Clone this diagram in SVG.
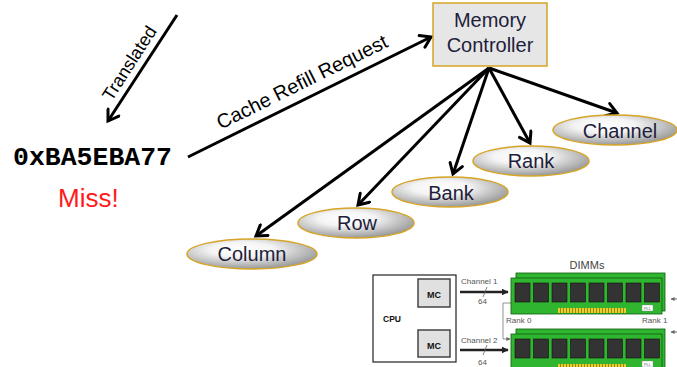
<svg xmlns="http://www.w3.org/2000/svg" width="677" height="367" viewBox="0 0 677 367">
  <defs>
    <radialGradient id="pill" cx="0.42" cy="0.35" r="0.7">
      <stop offset="0" stop-color="#ffffff"/>
      <stop offset="0.35" stop-color="#f4f4f4"/>
      <stop offset="1" stop-color="#8e8e8e"/>
    </radialGradient>
    <marker id="chev" viewBox="0 0 16 16" markerWidth="16" markerHeight="16" refX="13" refY="8" orient="auto" markerUnits="userSpaceOnUse">
      <path d="M3,1.5 L13,8 L3,14.5" fill="none" stroke="#000" stroke-width="3" stroke-linecap="round" stroke-linejoin="miter"/>
    </marker>
    <marker id="solid" viewBox="0 0 10 10" markerWidth="7" markerHeight="7" refX="9" refY="5" orient="auto" markerUnits="userSpaceOnUse">
      <path d="M0,0 L10,5 L0,10 Z" fill="#222"/>
    </marker>
    <marker id="tiny" viewBox="0 0 10 10" markerWidth="4" markerHeight="4" refX="9" refY="5" orient="auto" markerUnits="userSpaceOnUse">
      <path d="M0,0 L10,5 L0,10 Z" fill="#666"/>
    </marker>
    <pattern id="pins" width="3" height="6" patternUnits="userSpaceOnUse">
      <rect width="3" height="6" fill="#e8cf2a"/>
      <rect x="2" width="1" height="6" fill="#9a8a12"/>
    </pattern>
  </defs>
  <style>
    .lbl { font-family: "Liberation Sans", Arial, sans-serif; font-size: 20px; fill: #1e1e3c; text-anchor: middle; }
    .edge { font-family: "Liberation Sans", Arial, sans-serif; fill: #000; text-anchor: middle; }
    .pill { fill: url(#pill); stroke: #d6a526; stroke-width: 1.5; }
    .arrow { stroke: #000; stroke-width: 3; fill: none; marker-end: url(#chev); }
    .small { font-family: "Liberation Sans", Arial, sans-serif; font-size: 8px; fill: #555; }
    .board { fill: #2fb52f; stroke: #0d5f0d; stroke-width: 0.8; }
    .chip { fill: #333; stroke: #111; stroke-width: 0.6; }
  </style>

  <!-- connectors -->
  <g id="connectors">
    <line class="arrow" x1="177" y1="15" x2="108" y2="121"/>
    <line class="arrow" x1="188" y1="157" x2="431" y2="37"/>
    <line class="arrow" x1="489" y1="68" x2="617" y2="113"/>
    <line class="arrow" x1="489" y1="68" x2="530" y2="143"/>
    <line class="arrow" x1="489" y1="68" x2="453" y2="174"/>
    <line class="arrow" x1="489" y1="68" x2="358" y2="205"/>
    <line class="arrow" x1="489" y1="68" x2="256" y2="236"/>
    <text class="edge" font-size="18" x="134.5" y="66.5" transform="rotate(-57.3 134.5 66.5)">Translated</text>
    <text class="edge" font-size="20" x="305" y="88" transform="rotate(-26.4 305 88)">Cache Refill Request</text>
  </g>

  <!-- address -->
  <g id="address">
    <text x="13" y="165" font-family="'Liberation Mono', 'Courier New', monospace" font-weight="bold" font-size="26.5" fill="#000">0xBA5EBA77</text>
    <text x="58" y="207" font-family="'Liberation Sans', Arial, sans-serif" font-size="26" fill="#ff1a1a">Miss!</text>
  </g>

  <!-- memory controller -->
  <g id="memory-controller">
    <rect x="433" y="3" width="114" height="63" fill="#e6e6e6" stroke="#d6a526" stroke-width="1.5"/>
    <text class="lbl" x="490" y="27">Memory</text>
    <text class="lbl" x="490" y="52">Controller</text>
  </g>

  <!-- address fields -->
  <g id="channel">
    <ellipse class="pill" cx="615" cy="130" rx="62" ry="15"/>
    <text class="lbl" x="620" y="138">Channel</text>
  </g>
  <g id="rank">
    <ellipse class="pill" cx="531" cy="161" rx="58" ry="15"/>
    <text class="lbl" x="531" y="168">Rank</text>
  </g>
  <g id="bank">
    <ellipse class="pill" cx="450" cy="192" rx="58" ry="15"/>
    <text class="lbl" x="451" y="200">Bank</text>
  </g>
  <g id="row">
    <ellipse class="pill" cx="356" cy="223" rx="58" ry="15"/>
    <text class="lbl" x="357" y="230">Row</text>
  </g>
  <g id="column">
    <ellipse class="pill" cx="252" cy="254" rx="65" ry="15"/>
    <text class="lbl" x="252" y="261">Column</text>
  </g>

  <!-- CPU and DIMM organisation sketch -->
  <g id="dimm-figure">
    <rect x="373" y="275" width="83" height="87" fill="#fff" stroke="#222" stroke-width="1.2"/>
    <text x="383" y="322" font-family="'Liberation Sans', Arial, sans-serif" font-weight="bold" font-size="8.5" fill="#111">CPU</text>
    <rect x="418" y="279" width="32" height="28" fill="#e0e0e0" stroke="#444" stroke-width="1.5"/>
    <text x="434" y="298" font-family="'Liberation Sans', Arial, sans-serif" font-weight="bold" font-size="9" fill="#111" text-anchor="middle">MC</text>
    <rect x="418" y="330" width="32" height="27" fill="#e0e0e0" stroke="#444" stroke-width="1.5"/>
    <text x="434" y="349" font-family="'Liberation Sans', Arial, sans-serif" font-weight="bold" font-size="9" fill="#111" text-anchor="middle">MC</text>

    <!-- channel buses -->
    <line x1="460" y1="292" x2="508" y2="292" stroke="#222" stroke-width="2.5" marker-end="url(#solid)"/>
    <line x1="483" y1="297" x2="487" y2="287" stroke="#666" stroke-width="0.8"/>
    <text class="small" x="461" y="284">Channel 1</text>
    <text class="small" x="478" y="304">64</text>
    <line x1="460" y1="350" x2="508" y2="350" stroke="#222" stroke-width="2.5" marker-end="url(#solid)"/>
    <line x1="483" y1="355" x2="487" y2="345" stroke="#666" stroke-width="0.8"/>
    <text class="small" x="461" y="343">Channel 2</text>
    <text class="small" x="478" y="365" font-size="7">64</text>

    <!-- rank select -->
    <path d="M510,303 H503 V339 H510" fill="none" stroke="#777" stroke-width="0.8" marker-start="url(#tiny)" marker-end="url(#tiny)"/>
    <text class="small" x="506" y="323">Rank 0</text>
    <text class="small" x="642" y="323">Rank 1</text>
    <text x="587" y="269" font-family="'Liberation Sans', Arial, sans-serif" font-size="11" fill="#444" text-anchor="middle">DIMMs</text>
    <line x1="677" y1="299" x2="671" y2="299" stroke="#444" stroke-width="0.8" marker-end="url(#tiny)"/>
    <line x1="677" y1="332" x2="671" y2="332" stroke="#444" stroke-width="0.8" marker-end="url(#tiny)"/>

    <!-- upper DIMM -->
    <rect class="board" x="516" y="273" width="149" height="38"/>
    <rect class="board" x="511" y="278" width="151" height="36"/>
    <g class="chip">
      <rect x="515" y="283" width="15" height="19"/>
      <rect x="533.5" y="283" width="15" height="19"/>
      <rect x="552" y="283" width="15" height="19"/>
      <rect x="570.5" y="283" width="15" height="19"/>
      <rect x="589" y="283" width="15" height="19"/>
      <rect x="607.5" y="283" width="15" height="19"/>
      <rect x="626" y="283" width="15" height="19"/>
      <rect x="644.5" y="283" width="15" height="19"/>
    </g>
    <rect x="558" y="308" width="68" height="5" fill="url(#pins)"/>
    <rect x="642" y="305" width="11" height="6" fill="#fff" stroke="#888" stroke-width="0.4"/>
    <text x="647.5" y="310" font-family="'Liberation Sans', Arial, sans-serif" font-size="4" fill="#666" text-anchor="middle">PLL</text>

    <!-- lower DIMM -->
    <rect class="board" x="516" y="329" width="149" height="44"/>
    <rect class="board" x="511" y="334" width="151" height="40"/>
    <g class="chip">
      <rect x="515" y="339" width="15" height="19"/>
      <rect x="533.5" y="339" width="15" height="19"/>
      <rect x="552" y="339" width="15" height="19"/>
      <rect x="570.5" y="339" width="15" height="19"/>
      <rect x="589" y="339" width="15" height="19"/>
      <rect x="607.5" y="339" width="15" height="19"/>
      <rect x="626" y="339" width="15" height="19"/>
      <rect x="644.5" y="339" width="15" height="19"/>
    </g>
    <rect x="558" y="364" width="68" height="5" fill="url(#pins)"/>
    <rect x="642" y="361" width="11" height="6" fill="#fff" stroke="#888" stroke-width="0.4"/>
    <text x="647.5" y="366" font-family="'Liberation Sans', Arial, sans-serif" font-size="4" fill="#666" text-anchor="middle">PLL</text>
  </g>
</svg>
